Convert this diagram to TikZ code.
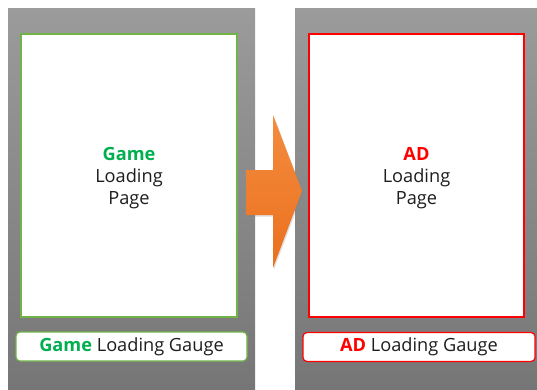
\documentclass[tikz,border=0pt]{standalone}
\usepackage{fontspec}
\setmainfont{Open Sans}
\usetikzlibrary{shadows}
\definecolor{gtop}{RGB}{155,155,155}
\definecolor{gbot}{RGB}{118,118,118}
\definecolor{gamegreen}{RGB}{0,176,80}
\definecolor{lgreen}{RGB}{112,180,71}
\definecolor{adred}{RGB}{255,0,0}
\definecolor{otop}{RGB}{244,140,62}
\definecolor{obot}{RGB}{234,112,30}
\definecolor{txt}{RGB}{30,30,30}
\begin{document}
\begin{tikzpicture}[x=1pt,y=-1pt,
  panel/.style={draw=none,top color=gtop,bottom color=gbot,minimum width=#1,minimum height=381pt,inner sep=0pt},
  page/.style={draw=#1,line width=1.2pt,fill=white,minimum height=283pt,inner sep=0pt},
  pagetext/.style={align=center,text=txt,font=\fontsize{18.2}{22}\selectfont},
  gauge/.style={draw=#1,line width=1.2pt,fill=white,rounded corners=4pt,minimum height=29pt,inner sep=0pt,text=txt,font=\fontsize{18.2}{20}\selectfont}]
\useasboundingbox (0,0) rectangle (537,389);
\node[panel=247pt] (lp) at (131.5,198.5) {};
\node[panel=242pt] (rp) at (416,198.5) {};
\node[page=lgreen,minimum width=216pt] (lpage) at (129,175.5) {};
\node[page=adred,minimum width=215pt] (rpage) at (416.5,175.5) {};
\node[pagetext] (lpt) at (129,178) {\textbf{\color{gamegreen}Game}\\Loading\\Page};
\node[pagetext] (rpt) at (416.5,178) {\textbf{\color{adred}AD}\\Loading\\Page};
\node[gauge=lgreen,minimum width=231pt] (lg) at (131.5,346.5) {\textbf{\color{gamegreen}Game} Loading Gauge};
\node[gauge=adred,minimum width=232pt] (rg) at (419,347) {\textbf{\color{adred}AD} Loading Gauge};
\path[draw=none,top color=otop,bottom color=obot,drop shadow={opacity=0.25,shadow xshift=1pt,shadow yshift=-1.5pt}]
  (246,170) -- (273,170) -- (273,115) -- (302,191) -- (273,268) -- (273,215) -- (246,215) -- cycle;
\end{tikzpicture}
\end{document}
